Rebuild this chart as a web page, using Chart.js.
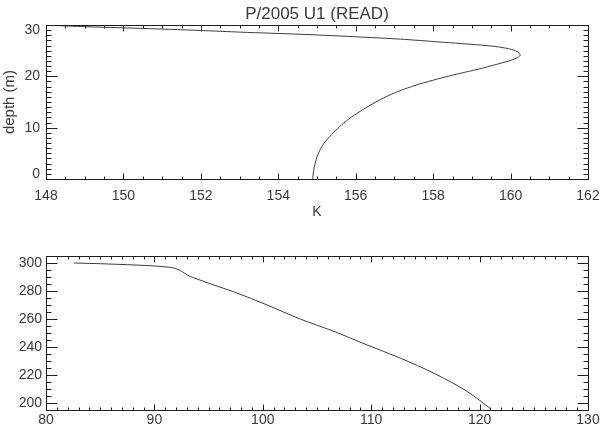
<!DOCTYPE html>
<html>
<head>
<meta charset="utf-8">
<script src="https://cdn.jsdelivr.net/npm/chart.js@4.4.1/dist/chart.umd.min.js"></script>
<style>
  html, body { margin: 0; padding: 0; background: #fff; }
  body { width: 600px; height: 432px; position: relative; overflow: hidden; }
  .box { position: absolute; left: 0; width: 600px; }
  #topBox { top: 0; height: 225px; }
  #botBox { top: 235px; height: 197px; }
</style>
</head>
<body>
<div class="box" id="topBox"><canvas id="topChart"></canvas></div>
<div class="box" id="botBox"><canvas id="botChart"></canvas></div>
<script>
// ---------- Data ----------
const titleText = 'P/2005 U1 (READ)';

// Top panel: temperature (K) vs depth (m)
const topDepth = [0, 1.5, 3.0, 4.5, 6.0, 7.5, 9.0, 10.5, 12.0, 13.5, 15.0, 16.5, 17.5, 18.5, 19.5, 20.5, 21.4, 22.3, 23.0, 23.6, 24.1,
                  24.55, 25.0, 25.4, 25.8, 26.1, 26.4, 26.7, 27.25, 27.85, 28.2, 28.6, 28.95, 29.35, 29.7, 30.0];
const topTemp  = [154.89, 154.91, 154.95, 155.01, 155.10, 155.24, 155.42, 155.63, 155.88, 156.18, 156.52, 156.92, 157.25, 157.65, 158.12, 158.65, 159.17, 159.62, 159.96, 160.16, 160.25,
                  160.22, 160.12, 159.94, 159.62, 159.22, 158.70, 158.15, 157.15, 155.60, 154.56, 153.05, 151.95, 150.43, 148.9, 148.0];
const topXTicks = [148, 150, 152, 154, 156, 158, 160, 162];
const topYTicks = [0, 10, 20, 30];

// Bottom panel
const botX = [82.6, 85.0, 87.5, 89.6, 90.5, 91.3, 91.8, 92.1, 92.4, 92.8, 93.3, 94.0, 95.2, 97.3, 100.4, 103.5, 106.6, 109.6, 112.7, 115.8, 118.9, 121.0];
const botY = [300.0, 299.5, 298.8, 298.1, 297.6, 297.0, 296.4, 295.6, 294.6, 292.6, 290.4, 288.4, 285.0, 279.5, 270.0, 259.8, 251.1, 241.5, 232.0, 221.2, 208.0, 196.0];
const botXTicks = [80, 90, 100, 110, 120, 130];
const botYTicks = [200, 220, 240, 260, 280, 300];

// ---------- Style ----------
const FONT = "'Liberation Sans', Arial, sans-serif";
const TXT = '#3a3a3a';
const AXIS = '#1e1e1e';
const LINE = '#3c3c3c';

// IDL-style box with inward ticks on all four sides
const idlBox = {
  id: 'idlBox',
  afterDatasetsDraw(chart, args, o) {
    const {ctx, chartArea: a, scales} = chart;
    const xs = scales.x, ys = scales.y;
    const L = Math.round(a.left) + 0.5, R = Math.round(a.right) + 0.5;
    const T = Math.round(a.top) + 0.5, B = Math.round(a.bottom) + 0.5;
    ctx.save();
    ctx.strokeStyle = AXIS;
    ctx.lineWidth = 1;
    ctx.beginPath();
    ctx.rect(L, T, R - L, B - T);
    const nx = Math.round((xs.max - xs.min) / o.xMinor);
    for (let i = 0; i <= nx; i++) {
      const v = xs.min + i * o.xMinor;
      const r = v / o.xMajor;
      const major = Math.abs(r - Math.round(r)) < 1e-6;
      const len = major ? o.xMajLen : o.xMinLen;
      const px = Math.round(xs.getPixelForValue(v)) + 0.5;
      ctx.moveTo(px, B); ctx.lineTo(px, B - len);
      ctx.moveTo(px, T); ctx.lineTo(px, T + len);
    }
    const start = Math.ceil(ys.min / o.yMinor - 1e-9);
    const end = Math.floor(ys.max / o.yMinor + 1e-9);
    for (let i = start; i <= end; i++) {
      const v = i * o.yMinor;
      const r = v / o.yMajor;
      const major = Math.abs(r - Math.round(r)) < 1e-6;
      const len = major ? o.yMajLen : o.yMinLen;
      const py = Math.round(ys.getPixelForValue(v)) + 0.5;
      ctx.moveTo(L, py); ctx.lineTo(L + len, py);
      ctx.moveTo(R, py); ctx.lineTo(R - len, py);
    }
    ctx.stroke();
    ctx.restore();
  },
  afterLayout(chart) {
    // center the main title over the plot area, like the original
    const tb = chart.titleBlock;
    if (tb && tb.options.display) {
      tb.left = chart.chartArea.left;
      tb.right = chart.chartArea.right;
    }
  }
};

function lineData(xs, ys) {
  return xs.map((x, i) => ({ x: x, y: ys[i] }));
}
function fixX(h) {
  return s => { s.height = h; s.paddingLeft = 0; s.paddingRight = 0; };
}
function fixY(w) {
  return s => { s.width = w; s.paddingTop = 0; s.paddingBottom = 0; };
}

// ---------- Top chart ----------
new Chart(document.getElementById('topChart'), {
  type: 'scatter',
  data: {
    datasets: [{
      data: lineData(topTemp, topDepth),
      showLine: true,
      borderColor: LINE,
      borderWidth: 1,
      pointRadius: 0,
      tension: 0.25,
      fill: false
    }]
  },
  plugins: [idlBox],
  options: {
    responsive: true,
    maintainAspectRatio: false,
    animation: false,
    layout: { padding: { left: 0, right: 12, top: 0, bottom: 0 } },
    plugins: {
      legend: { display: false },
      tooltip: { enabled: false },
      title: {
        display: true,
        text: titleText,
        color: TXT,
        font: { family: FONT, size: 17, weight: 'normal', lineHeight: 1.2 },
        padding: { top: 4, bottom: 0.6 }
      },
      idlBox: { xMinor: 0.5, xMajor: 2, yMinor: 1, yMajor: 10, xMajLen: 6, xMinLen: 3, yMajLen: 11, yMinLen: 5 }
    },
    scales: {
      x: {
        type: 'linear', min: 148, max: 162,
        afterBuildTicks: s => { s.ticks = topXTicks.map(v => ({ value: v })); },
        afterFit: fixX(46),
        ticks: { color: TXT, font: { family: FONT, size: 14 }, padding: 9, maxRotation: 0, autoSkip: false },
        grid: { display: false, drawTicks: false },
        border: { display: false },
        title: { display: true, text: 'K', color: TXT, font: { family: FONT, size: 14 }, padding: { top: 0, bottom: 4 } }
      },
      y: {
        type: 'linear', min: 0, max: 30,
        afterBuildTicks: s => { s.ticks = topYTicks.map(v => ({ value: v })); },
        afterFit: fixY(46),
        ticks: {
          color: TXT, padding: 6, autoSkip: false,
          // end labels are pulled inside the axis range, as in the original
          font: c => ({ family: FONT, size: 14, lineHeight: (c.tick && (c.tick.value === 0 || c.tick.value === 30)) ? 0.7 : 1.2 }),
          callback: v => v === 30 ? ['', '30'] : (v === 0 ? ['0', ''] : String(v))
        },
        grid: { display: false, drawTicks: false },
        border: { display: false },
        title: { display: true, text: 'depth (m)', color: TXT, font: { family: FONT, size: 15 }, padding: { top: 1, bottom: 0 } }
      }
    }
  }
});

// ---------- Bottom chart ----------
new Chart(document.getElementById('botChart'), {
  type: 'scatter',
  data: {
    datasets: [{
      data: lineData(botX, botY),
      showLine: true,
      borderColor: LINE,
      borderWidth: 1,
      pointRadius: 0,
      cubicInterpolationMode: 'monotone',
      fill: false
    }]
  },
  plugins: [idlBox],
  options: {
    responsive: true,
    maintainAspectRatio: false,
    animation: false,
    layout: { padding: { left: 0, right: 12, top: 21, bottom: 0 } },
    plugins: {
      legend: { display: false },
      tooltip: { enabled: false },
      title: { display: false },
      idlBox: { xMinor: 1, xMajor: 10, yMinor: 5, yMajor: 20, xMajLen: 6, xMinLen: 3, yMajLen: 11, yMinLen: 5 }
    },
    scales: {
      x: {
        type: 'linear', min: 80, max: 130,
        afterBuildTicks: s => { s.ticks = botXTicks.map(v => ({ value: v })); },
        afterFit: fixX(22),
        ticks: { color: TXT, font: { family: FONT, size: 14 }, padding: 2, maxRotation: 0, autoSkip: false },
        grid: { display: false, drawTicks: false },
        border: { display: false }
      },
      y: {
        type: 'linear', min: 195, max: 305,
        afterBuildTicks: s => { s.ticks = botYTicks.map(v => ({ value: v })); },
        afterFit: fixY(46),
        ticks: { color: TXT, font: { family: FONT, size: 14 }, padding: 4, autoSkip: false },
        grid: { display: false, drawTicks: false },
        border: { display: false }
      }
    }
  }
});
</script>
</body>
</html>
